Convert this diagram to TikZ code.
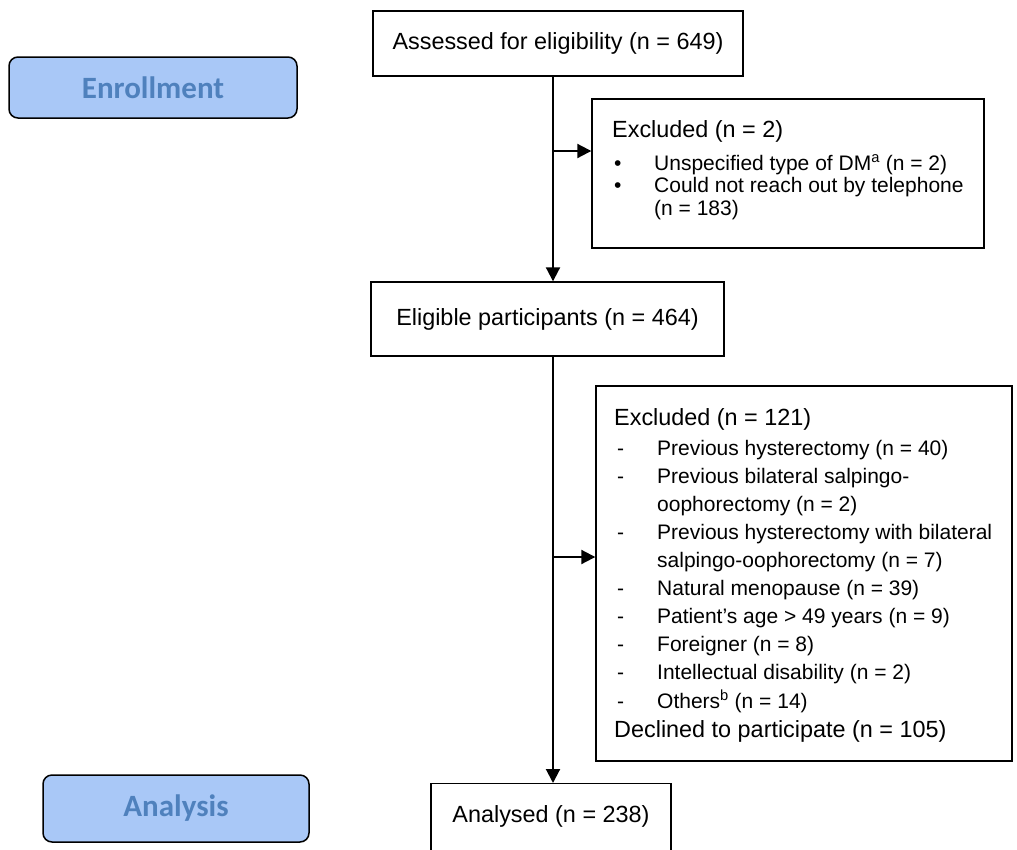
\documentclass[tikz,border=0pt]{standalone}
\usepackage{fontspec}
\setmainfont{Liberation Sans}
\newfontfamily\calfont{Carlito}
\usetikzlibrary{arrows.meta}
\definecolor{stageFill}{RGB}{169,200,247}
\definecolor{stageText}{RGB}{79,129,189}
\tikzset{
  flow/.style={draw=black, line width=1.4pt, fill=white, inner sep=0pt,
    font=\fontsize{23.4}{28}\selectfont},
  stage/.style={draw=black, line width=1.5pt, fill=stageFill, rounded corners=9pt,
    inner sep=0pt, text=stageText, font=\calfont\bfseries\fontsize{31}{36}\selectfont},
  conn/.style={line width=2pt, -{Triangle[length=14pt,width=14pt]}},
  head/.style={anchor=base west, inner sep=0pt, font=\fontsize{23.4}{28}\selectfont},
  item/.style={anchor=base west, inner sep=0pt, font=\fontsize{21}{25}\selectfont},
}
\begin{document}
\begin{tikzpicture}[x=1pt,y=-1pt]
\useasboundingbox (0,0) rectangle (1017,849);
\clip (0,0) rectangle (1017,849);

% stage labels
\node[stage, minimum width=288pt, minimum height=61pt] (enroll) at (153,87.5) {Enrollment};
\node[stage, minimum width=266pt, minimum height=67pt] (analysis) at (176,808.5) {Analysis};

% main boxes
\node[flow, minimum width=370pt, minimum height=65pt] (assessed) at (558,43.5) {Assessed for eligibility (n = 649)};
\node[flow, minimum width=353pt, minimum height=74pt] (eligible) at (547.5,319) {Eligible participants (n = 464)};
\node[flow, anchor=north, minimum width=240pt, inner ysep=22pt, text height=17pt, text depth=60pt] (analysed) at (551,783) {Analysed (n = 238)};

% exclusion boxes
\node[flow, minimum width=392pt, minimum height=149pt] (excl1) at (788,173.5) {};
\node[flow, minimum width=416pt, minimum height=375pt] (excl2) at (804,573.5) {};

% connectors
\coordinate (spine) at (553,0);
\coordinate (b1) at (553,151);
\coordinate (b2) at (553,557);
\draw[conn] (assessed.south -| spine) -- (eligible.north -| spine);
\draw[conn] (b1) -- (b1 -| excl1.west);
\draw[conn] (eligible.south -| spine) -- (analysed.north -| spine);
\draw[conn] (b2) -- (b2 -| excl2.west);

% text of first exclusion box
\node[head] (e1h) at (612,137) {Excluded (n = 2)};
\node[item] (e1b1) at (614,170) {•};
\node[item] (e1t1) at (654,170) {Unspecified type of DM\textsuperscript{a} (n = 2)};
\node[item] (e1b2) at (614,192.5) {•};
\node[item] (e1t2) at (654,192.5) {Could not reach out by telephone};
\node[item] (e1t3) at (654,215) {(n = 183)};

% text of second exclusion box
\node[head] (e2h) at (614,425) {Excluded (n = 121)};
\foreach \y/\t [count=\i] in {
  455/{Previous hysterectomy (n = 40)},
  483/{Previous bilateral salpingo-},
  539/{Previous hysterectomy with bilateral},
  595/{Natural menopause (n = 39)},
  623/{Patient’s age > 49 years (n = 9)},
  651/{Foreigner (n = 8)},
  679/{Intellectual disability (n = 2)},
  708/{Others\textsuperscript{b} (n = 14)}} {
  \node[item] (e2d\i) at (617,\y) {-};
  \node[item] (e2t\i) at (657,\y) {\t};
}
\node[item] (e2c1) at (657,511) {oophorectomy (n = 2)};
\node[item] (e2c2) at (657,567) {salpingo-oophorectomy (n = 7)};
\node[head] (e2dec) at (614,737) {Declined to participate (n = 105)};
\end{tikzpicture}
\end{document}
